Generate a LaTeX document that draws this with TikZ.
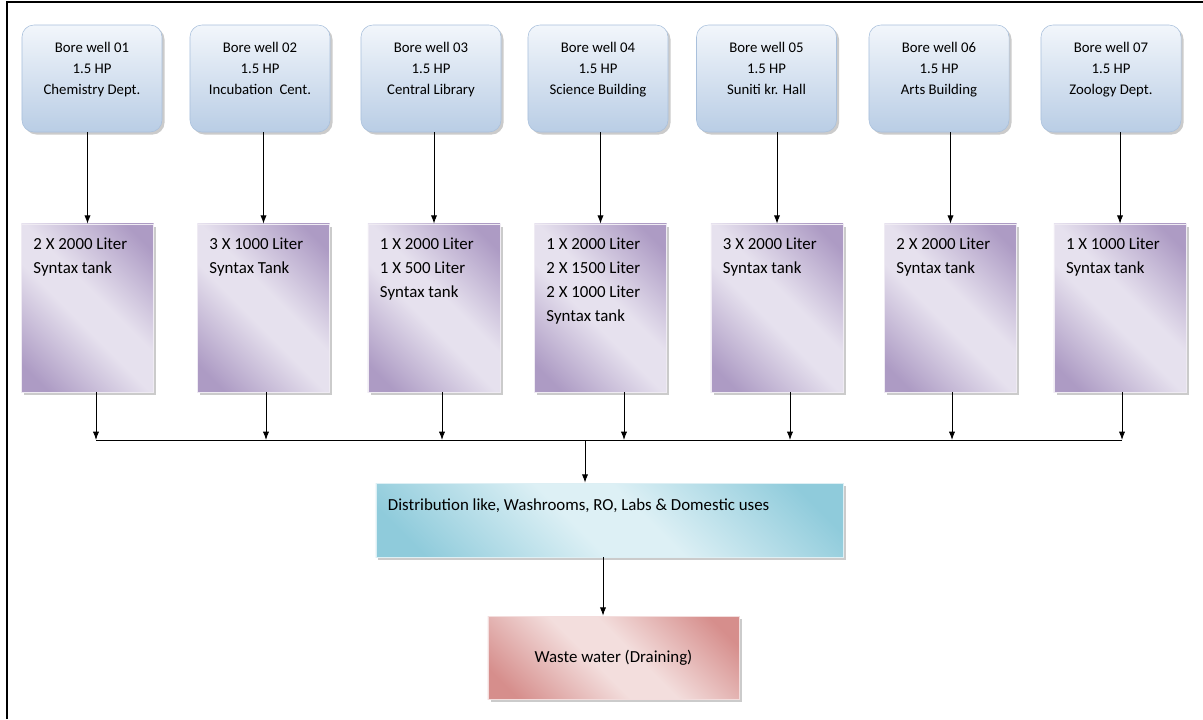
\documentclass[tikz,border=0pt]{standalone}
\usepackage{fontspec}
\setmainfont{Carlito}
\usepackage{tikz}
\usetikzlibrary{shadows, arrows.meta}
\definecolor{welltop}{HTML}{F2F6FB}
\definecolor{wellbot}{HTML}{B9CDE5}
\definecolor{welledge}{HTML}{A9C0DC}
\definecolor{tankdark}{HTML}{AD9BC4}
\definecolor{tanklight}{HTML}{E6E1EE}
\definecolor{distdark}{HTML}{8FCBDB}
\definecolor{distlight}{HTML}{DDF0F5}
\definecolor{wastedark}{HTML}{D68E8C}
\definecolor{wastelight}{HTML}{F3DEDD}
\pgfdeclarehorizontalshading{tankshade}{100bp}{color(0bp)=(tankdark); color(21bp)=(tankdark);
  color(45bp)=(tanklight); color(55bp)=(tanklight); color(79bp)=(tankdark); color(100bp)=(tankdark)}
\pgfdeclarehorizontalshading{distshade}{100bp}{color(0bp)=(distdark); color(21bp)=(distdark);
  color(45bp)=(distlight); color(55bp)=(distlight); color(79bp)=(distdark); color(100bp)=(distdark)}
\pgfdeclarehorizontalshading{wasteshade}{100bp}{color(0bp)=(wastedark); color(21bp)=(wastedark);
  color(45bp)=(wastelight); color(55bp)=(wastelight); color(79bp)=(wastedark); color(100bp)=(wastedark)}
\newcommand{\welltext}[1]{\parbox[c][2.675cm][t]{3.5cm}{\vspace*{0.42cm}\centering #1}}
\newcommand{\tanktext}[1]{\parbox[c][4.2cm][t]{2.7cm}{\vspace*{0.35cm}\raggedright #1}}
\newcommand{\disttext}[1]{\parbox[c][1.85cm][t]{11.075cm}{\vspace*{0.39cm}\raggedright #1}}
\tikzset{
  boxshadow/.style={drop shadow={shadow xshift=1.8pt, shadow yshift=-1.8pt, fill=black!45, opacity=0.45}},
  wellbox/.style={boxshadow, draw=welledge, rounded corners=0.3cm, top color=welltop, bottom color=wellbot,
    minimum width=3.5cm, minimum height=2.675cm, inner sep=0pt, font=\fontsize{10.5}{15}\selectfont},
  tankbox/.style={boxshadow, draw=white!80!tankdark, shading=tankshade, shading angle=45,
    minimum width=3.3cm, minimum height=4.2cm, inner xsep=0.3cm, inner ysep=0pt,
    font=\fontsize{12}{17}\selectfont},
  distbox/.style={boxshadow, draw=white!70!distdark, shading=distshade, shading angle=45,
    minimum width=11.675cm, minimum height=1.85cm, inner xsep=0.3cm, inner ysep=0pt,
    font=\fontsize{12}{17}\selectfont},
  wastebox/.style={boxshadow, draw=white!70!wastedark, shading=wasteshade, shading angle=45,
    minimum width=6.275cm, minimum height=2.075cm, font=\fontsize{12}{17}\selectfont},
  arr/.style={line width=0.7pt, -{Latex[length=6pt, width=4.5pt]}}
}
\begin{document}
\begin{tikzpicture}[x=0.025cm, y=-0.025cm]
\useasboundingbox(0,0) rectangle (1203,719);
\draw[line width=2pt](7,719)--(7,2)--(1203,2);
% bore wells
\node[wellbox](well1)at(92,78.5){\welltext{Bore well 01\\1.5 HP\\Chemistry Dept.}};
\node[wellbox](well2)at(260,78.5){\welltext{Bore well 02\\1.5 HP\\Incubation\ \ Cent.}};
\node[wellbox](well3)at(431,78.5){\welltext{Bore well 03\\1.5 HP\\Central Library}};
\node[wellbox](well4)at(598,78.5){\welltext{Bore well 04\\1.5 HP\\Science Building}};
\node[wellbox](well5)at(766.5,78.5){\welltext{Bore well 05\\1.5 HP\\Suniti kr. Hall}};
\node[wellbox](well6)at(939,78.5){\welltext{Bore well 06\\1.5 HP\\Arts Building}};
\node[wellbox](well7)at(1111,78.5){\welltext{Bore well 07\\1.5 HP\\Zoology Dept.}};
% tanks
\node[tankbox](tank1)at(87.5,308){\tanktext{2 X 2000 Liter\\Syntax tank}};
\node[tankbox](tank2)at(263.5,308){\tanktext{3 X 1000 Liter\\Syntax Tank}};
\node[tankbox](tank3)at(434,308){\tanktext{1 X 2000 Liter\\1 X 500 Liter\\Syntax tank}};
\node[tankbox](tank4)at(600.5,308){\tanktext{1 X 2000 Liter\\2 X 1500 Liter\\2 X 1000 Liter\\Syntax tank}};
\node[tankbox](tank5)at(777,308){\tanktext{3 X 2000 Liter\\Syntax tank}};
\node[tankbox](tank6)at(950.5,308){\tanktext{2 X 2000 Liter\\Syntax tank}};
\node[tankbox](tank7)at(1120,308){\tanktext{1 X 1000 Liter\\Syntax tank}};
% distribution and drain
\node[distbox](dist)at(609.5,520){\disttext{Distribution like, Washrooms, RO, Labs \& Domestic uses}};
\node[wastebox](waste)at(613.5,657.5){Waste water (Draining)};
\coordinate(b1)at(96,440);
\coordinate(b2)at(266,440);
\coordinate(b3)at(442,440);
\coordinate(b4)at(624,440);
\coordinate(b5)at(790,440);
\coordinate(b6)at(952,440);
\coordinate(b7)at(1122,440);
\coordinate(bm)at(585,440);
\coordinate(dout)at(603,557);
\foreach \i in {1,...,7}
  \draw[arr](well\i.south -| tank\i.north)--(tank\i.north);
\foreach \i in {1,...,7}
  \draw[arr](tank\i.south -| b\i)--(b\i);
\draw[line width=0.7pt](b1)--(b7);
\draw[arr](bm)--(dist.north -| bm);
\draw[arr](dist.south -| dout)--(waste.north -| dout);
\end{tikzpicture}
\end{document}
